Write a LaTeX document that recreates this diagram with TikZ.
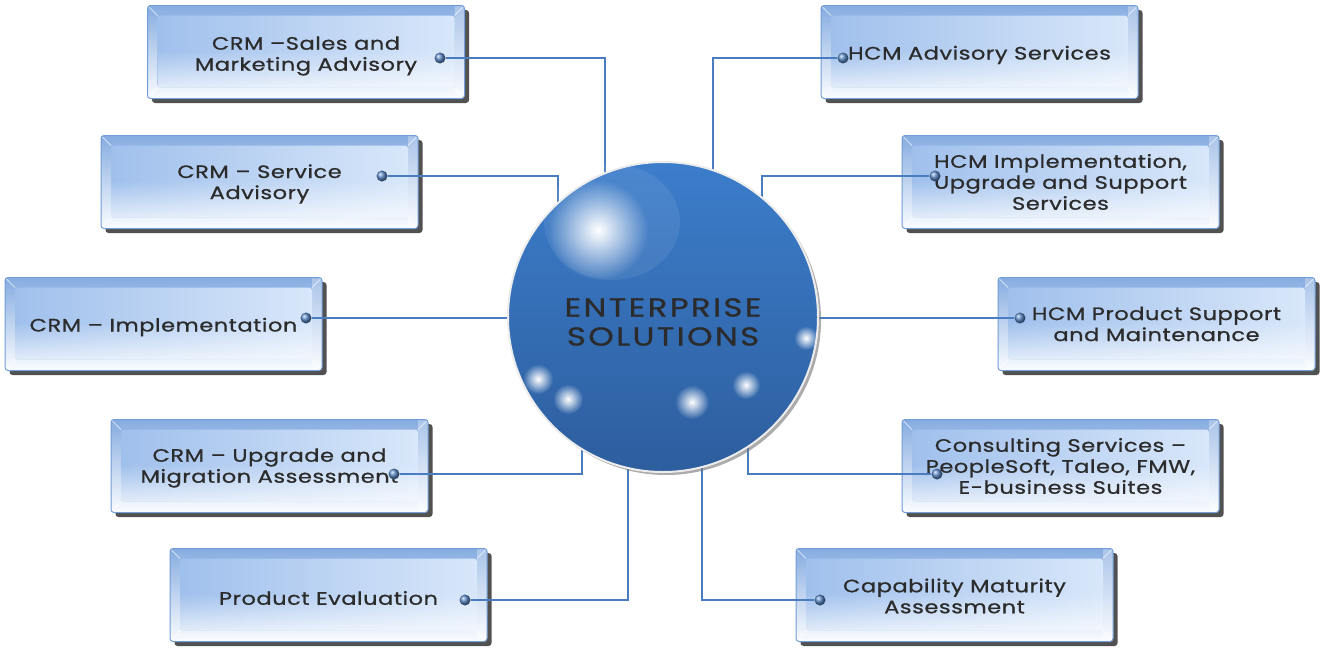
\documentclass[tikz,border=0pt]{standalone}
\usepackage{fontspec}
\setmainfont[FakeStretch=1.25,LetterSpace=3,FakeBold=0.8]{Poppins}
\usetikzlibrary{shadows,fadings}

\definecolor{boxtop}{HTML}{86ACE0}
\definecolor{boxbot}{HTML}{FAFCFF}
\definecolor{faceleft}{HTML}{A0C0EC}
\definecolor{faceright}{HTML}{D8E7FA}
\definecolor{boxedge}{HTML}{729DD5}
\definecolor{linkblue}{HTML}{4A7DC0}
\definecolor{balltop}{HTML}{3C7DCB}
\definecolor{ballbot}{HTML}{2D5E9E}
\definecolor{txt}{HTML}{2B2B2B}

\tikzfading[name=glowfade, inner color=transparent!0, outer color=transparent!100]

\pgfdeclarelayer{boxes}
\pgfdeclarelayer{links}
\pgfsetlayers{boxes,links,main}

\tikzset{
	pbox/.style={rectangle, rounded corners=3pt, minimum width=317pt, minimum height=93pt,
		draw=boxedge, line width=1pt, top color=boxtop, bottom color=boxbot,
		drop shadow={shadow xshift=4.5pt, shadow yshift=-4.5pt, fill=black!85, opacity=0.8},
		path picture={
			\coordinate (nw) at (path picture bounding box.north west);
			\coordinate (se) at (path picture bounding box.south east);
			\coordinate (ne) at (path picture bounding box.north east);
			\coordinate (sw) at (path picture bounding box.south west);
			\fill[white, opacity=0.3] ([shift={(-10pt,10pt)}]ne) rectangle (se);
			\shade[left color=faceleft, right color=faceright]
				([shift={(10pt,-10pt)}]nw) rectangle ([shift={(-10pt,11pt)}]se);
			\fill[white, opacity=0.7, path fading=north]
				([shift={(10pt,-45pt)}]nw) rectangle ([shift={(-10pt,11pt)}]se);
			\draw[white, opacity=0.6] (nw) -- ++(10pt,-10pt) (ne) -- ++(-10pt,-10pt)
				(sw) -- ++(10pt,11pt) (se) -- ++(-10pt,11pt);
		}},
	ptext/.style={text=txt, align=center, font=\fontsize{18}{21}\selectfont},
	pdot/.style={circle, inner sep=0pt, minimum size=11pt, shading=ball, ball color=linkblue!90!white},
	link/.style={draw=linkblue, line width=1.6pt},
	sphere/.style={circle, minimum size=310pt, top color=balltop, bottom color=ballbot,
		draw=white!85!gray, line width=2pt,
		drop shadow={shadow xshift=3pt, shadow yshift=-3pt, fill=black!55, opacity=0.6}},
	stext/.style={text=txt, align=center, font=\fontsize{26}{29}\selectfont\addfontfeature{LetterSpace=9}},
	glow/.style={white, path fading=glowfade}
}

\begin{document}
\begin{tikzpicture}[x=1pt,y=-1pt]
	\useasboundingbox (0,0) rectangle (1329,656);
	% Boites
	\begin{pgfonlayer}{boxes}
	\node[pbox] (b1) at (306,52) {};
	\node[pbox] (b2) at (259.5,182) {};
	\node[pbox] (b3) at (163.5,324) {};
	\node[pbox] (b4) at (269.5,466) {};
	\node[pbox] (b5) at (328.5,595) {};
	\node[pbox] (b6) at (979.5,52) {};
	\node[pbox] (b7) at (1060.5,182) {};
	\node[pbox] (b8) at (1156.5,324) {};
	\node[pbox] (b9) at (1060.5,466) {};
	\node[pbox] (b10) at (954.5,595) {};
	\node[ptext] (t1) at ([yshift=-4pt]b1) {CRM --Sales and\\Marketing Advisory};
	\node[ptext] (t2) at ([yshift=-2pt]b2) {CRM -- Service\\Advisory};
	\node[ptext] (t3) at ([yshift=-3pt]b3) {CRM -- Implementation};
	\node[ptext] (t4) at ([yshift=-2pt]b4) {CRM -- Upgrade and\\Migration Assessment};
	\node[ptext] (t5) at ([yshift=-3pt]b5) {Product Evaluation};
	\node[ptext] (t6) at ([yshift=-3pt]b6) {HCM Advisory Services};
	\node[ptext] (t7) at (b7) {HCM Implementation,\\Upgrade and Support\\Services};
	\node[ptext] (t8) at (b8) {HCM Product Support\\and Maintenance};
	\node[ptext] (t9) at (b9) {Consulting Services --\\PeopleSoft, Taleo, FMW,\\E-business Suites};
	\node[ptext] (t10) at ([yshift=-1pt]b10) {Capability Maturity\\Assessment};
	\end{pgfonlayer}
	% Points
	\node[pdot] (d1) at (440,58) {};
	\node[pdot] (d2) at (382,176) {};
	\node[pdot] (d3) at (306,318) {};
	\node[pdot] (d4) at (394,474) {};
	\node[pdot] (d5) at (465,600) {};
	\node[pdot] (d6) at (843,58) {};
	\node[pdot] (d7) at (935,176) {};
	\node[pdot] (d8) at (1020,318) {};
	\node[pdot] (d9) at (937,474) {};
	\node[pdot] (d10) at (820,600) {};
	% Sphere
	\node[sphere] (ball) at (663,317) {};
	\fill[white, opacity=0.08] (612,222) ellipse (68 and 58);
	\fill[glow] (598,230) circle (50);
	\fill[glow] (538,379) circle (15);
	\fill[glow] (568,399) circle (15);
	\fill[glow] (692,402) circle (17);
	\fill[glow] (746,385) circle (14);
	\fill[glow] (806,338) circle (12);
	\node[stext] (bt) at ([yshift=-5pt]ball) {ENTERPRISE\\SOLUTIONS};
	% Liens
	\coordinate (j1) at (605,200);
	\coordinate (j2) at (558,230);
	\coordinate (j4) at (582,420);
	\coordinate (j5) at (628,440);
	\coordinate (j6) at (713,200);
	\coordinate (j7) at (762,230);
	\coordinate (j9) at (748,420);
	\coordinate (j10) at (702,440);
	\begin{pgfonlayer}{links}
	\draw[link] (d1) -| (j1);
	\draw[link] (d2) -| (j2);
	\draw[link] (d3) -- (d3 -| ball.west);
	\draw[link] (d4) -| (j4);
	\draw[link] (d5) -| (j5);
	\draw[link] (d6) -| (j6);
	\draw[link] (d7) -| (j7);
	\draw[link] (d8) -- (d8 -| ball.east);
	\draw[link] (d9) -| (j9);
	\draw[link] (d10) -| (j10);
	\end{pgfonlayer}
\end{tikzpicture}
\end{document}
